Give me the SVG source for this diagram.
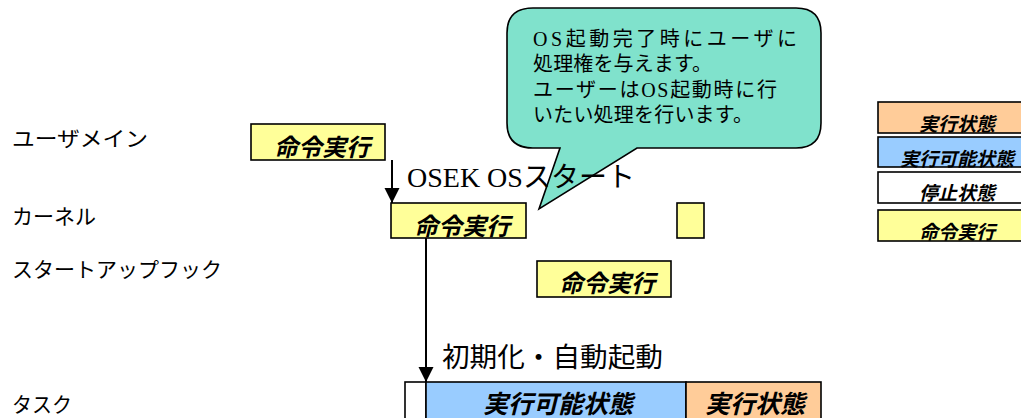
<svg xmlns="http://www.w3.org/2000/svg" width="1021" height="418" viewBox="0 0 1021 418">
<defs>
<style>
.lbl{font-family:"Noto Sans CJK JP","Noto Sans",sans-serif;font-size:21px;fill:#000}
.box{stroke:#000;stroke-width:1.6}
.y{fill:#FFFF99}.b{fill:#99CCFF}.o{fill:#FFCC99}.w{fill:#FFFFFF}
.bi{font-family:"Noto Sans CJK JP","Noto Sans",sans-serif;font-weight:bold;font-style:italic;fill:#000;text-anchor:middle}
.serif{font-family:"Liberation Serif","Noto Sans CJK JP",serif;fill:#000}
.conn{stroke:#000;stroke-width:2;fill:none}
</style>
<marker id="ah" markerWidth="16" markerHeight="16" refX="15" refY="7.5" orient="auto" markerUnits="userSpaceOnUse">
<path d="M0,0 L15,7.5 L0,15 Z" fill="#000"/>
</marker>
</defs>
<rect width="1021" height="418" fill="#fff"/>

<g id="lane-labels">
<text class="lbl" x="12" y="146" textLength="136" lengthAdjust="spacingAndGlyphs">ユーザメイン</text>
<text class="lbl" x="12" y="224">カーネル</text>
<text class="lbl" x="12" y="277" textLength="210" lengthAdjust="spacingAndGlyphs">スタートアップフック</text>
<text class="lbl" x="12" y="412" textLength="60" lengthAdjust="spacingAndGlyphs">タスク</text>
</g>

<g id="callout">
<path d="M533,8 L796,8 Q821,8 821,33 L821,123 Q821,148 796,148 L637,148 L539,209 L560,148 L533,148 Q507,148 507,123 L507,33 Q507,8 533,8 Z" fill="#80E2CC" stroke="#000" stroke-width="1.6"/>
<text class="serif" font-size="20">
<tspan x="533" y="46" textLength="264" lengthAdjust="spacing">OS起動完了時にユーザに</tspan>
<tspan x="533" y="71" textLength="179" lengthAdjust="spacing">処理権を与えます。</tspan>
<tspan x="533" y="97" textLength="244" lengthAdjust="spacing">ユーザーはOS起動時に行</tspan>
<tspan x="533" y="122" textLength="220" lengthAdjust="spacing">いたい処理を行います。</tspan>
</text>
</g>

<g id="connectors">
<line class="conn" x1="392" y1="160" x2="392" y2="203" marker-end="url(#ah)"/>
<line class="conn" x1="426" y1="238" x2="426" y2="382" marker-end="url(#ah)"/>
<text class="serif" x="407" y="187" font-size="28">OSEK OSスタート</text>
<text class="lbl" x="442" y="367" style="font-size:27px" textLength="221" lengthAdjust="spacingAndGlyphs">初期化・自動起動</text>
</g>

<g id="user-exec">
<rect class="box y" x="251" y="124" width="134" height="36"/>
<text class="bi" x="322" y="156" font-size="24">命令実行</text>
</g>

<g id="kernel-exec">
<rect class="box y" x="391" y="203" width="135" height="35"/>
<text class="bi" x="462" y="235" font-size="24">命令実行</text>
</g>

<g id="kernel-exec-2">
<rect class="box y" x="677" y="203" width="27" height="35"/>
</g>

<g id="startup-exec">
<rect class="box y" x="537" y="261" width="134" height="36"/>
<text class="bi" x="607" y="292" font-size="24">命令実行</text>
</g>

<g id="task-suspended">
<rect class="box w" x="405" y="382" width="21" height="50"/>
</g>
<g id="task-ready">
<rect class="box b" x="426" y="382" width="260" height="50"/>
<text class="bi" x="558" y="413" font-size="25">実行可能状態</text>
</g>
<g id="task-running">
<rect class="box o" x="686" y="382" width="135" height="50"/>
<text class="bi" x="755" y="413" font-size="25">実行状態</text>
</g>

<g id="legend-running">
<rect class="box o" x="878" y="102" width="160" height="31"/>
<text class="bi" x="957" y="131" font-size="19">実行状態</text>
</g>
<g id="legend-ready">
<rect class="box b" x="878" y="137" width="160" height="30"/>
<text class="bi" x="957" y="166" font-size="19">実行可能状態</text>
</g>
<g id="legend-suspended">
<rect class="box w" x="878" y="172" width="160" height="31"/>
<text class="bi" x="957" y="200" font-size="19">停止状態</text>
</g>
<g id="legend-exec">
<rect class="box y" x="878" y="210" width="160" height="31"/>
<text class="bi" x="957" y="239" font-size="19">命令実行</text>
</g>
</svg>
